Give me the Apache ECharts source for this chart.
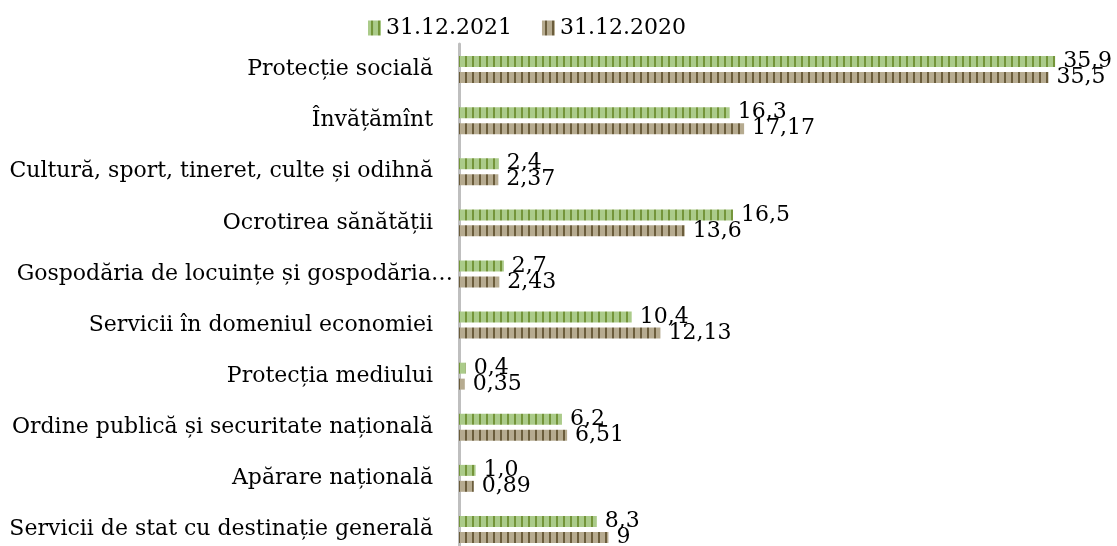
<!DOCTYPE html>
<html>
<head>
<meta charset="utf-8">
<script src="https://cdn.jsdelivr.net/npm/echarts@6/dist/echarts.min.js"></script>
<style>
  html, body { margin: 0; padding: 0; background: #fff; }
  #main { width: 1117px; height: 546px; }
</style>
</head>
<body>
<div id="main"></div>
<script>
var categories = [
    'Protecție socială',
    'Învățămînt',
    'Cultură, sport, tineret, culte și odihnă',
    'Ocrotirea sănătății',
    'Gospodăria de locuințe și gospodăria…',
    'Servicii în domeniul economiei',
    'Protecția mediului',
    'Ordine publică și securitate națională',
    'Apărare națională',
    'Servicii de stat cu destinație generală'
];
var seriesNames = ['31.12.2021', '31.12.2020'];
var values2021 = [35.9, 16.3, 2.4, 16.5, 2.7, 10.4, 0.4, 6.2, 1.0, 8.3];
var values2020 = [35.5, 17.17, 2.37, 13.6, 2.43, 12.13, 0.35, 6.51, 0.89, 9];

// striped fill like the office chart pattern
function stripes(light, dark)
{
    var c = document.createElement('canvas');
    c.width = 7;
    c.height = 4;
    var ctx = c.getContext('2d');
    ctx.fillStyle = light;
    ctx.fillRect(0, 0, 7, 4);
    ctx.fillStyle = dark;
    ctx.fillRect(3, 0, 2, 4);
    return {image: c, repeat: 'repeat'};
}

var greenFill = stripes('#abcb8a', '#74953a');
var brownFill = stripes('#b6ab90', '#6b5d3c');

function comma(v, fixed)
{
    var s = fixed ? v.toFixed(1) : String(v);
    return s.replace('.', ',');
}

var font = '"DejaVu Serif", serif';
var fs = 22;

// the truncated label reaches closer to the axis in the original
var yData = categories.map(function (c) {
    if (c.charAt(c.length - 1) === '…') {
        return {value: c, textStyle: {padding: [0, -20, 0, 0]}};
    }
    return c;
});

var myChart = echarts.init(document.getElementById('main'));
var option = {
    animation: false,
    textStyle: {fontFamily: font},
    legend: {
        top: 12,
        left: 363,
        icon: 'rect',
        itemWidth: 13,
        itemHeight: 15,
        itemGap: 30,
        textStyle: {fontFamily: font, fontSize: fs, color: '#000'},
        data: seriesNames
    },
    grid: {
        left: 459,
        top: 44,
        height: 511,
        width: 631,
        containLabel: false,
        outerBoundsMode: 'none'
    },
    xAxis: {
        type: 'value',
        show: false,
        min: 0,
        max: 38
    },
    yAxis: {
        type: 'category',
        inverse: true,
        data: yData,
        axisTick: {show: false},
        axisLine: {lineStyle: {color: '#bfbfbf', width: 3}},
        axisLabel: {fontFamily: font, fontSize: fs, color: '#000', margin: 26}
    },
    series: [
        {
            name: seriesNames[0],
            type: 'bar',
            barWidth: 11,
            barGap: '45%',
            itemStyle: {color: greenFill},
            label: {
                show: true,
                position: 'right',
                distance: 8,
                fontFamily: font,
                fontSize: fs,
                color: '#000',
                formatter: function (p) { return comma(p.value, true); }
            },
            data: values2021
        },
        {
            name: seriesNames[1],
            type: 'bar',
            barWidth: 11,
            barGap: '45%',
            itemStyle: {color: brownFill},
            label: {
                show: true,
                position: 'right',
                distance: 8,
                fontFamily: font,
                fontSize: fs,
                color: '#000',
                formatter: function (p) { return comma(p.value, false); }
            },
            data: values2020
        }
    ]
};

myChart.setOption(option);
</script>
</body>
</html>
